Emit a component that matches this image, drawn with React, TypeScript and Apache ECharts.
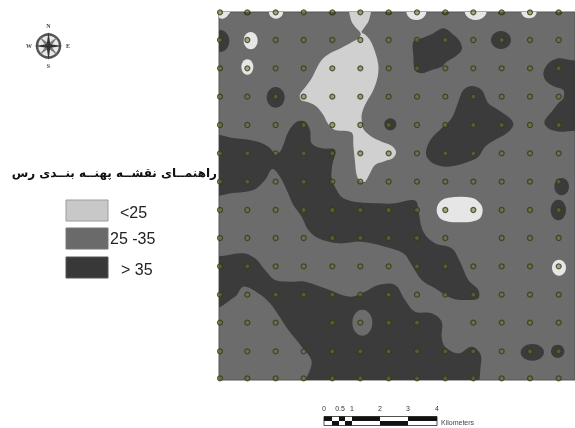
import React, { useEffect, useRef } from "react";
import * as echarts from "echarts";

const GRAY = "#6c6c6c";
const DARK = "#3b3b3b";
const LIGHT = "#d0d0d0";
const WHITE = "#e6e6e6";

const siteColumns = [15, 97, 182, 266, 352, 436, 521, 606, 691, 775, 860, 945, 1031];
const siteRows = [22, 105, 190, 275, 360, 445, 530, 615, 699, 784, 869, 953, 1039, 1120];
const missingSites = ["775,699", "266,953", "691,953"];

const legendNames = ["<25", "25 -35", "> 35"];
const scaleLabels = ["0", "0.5", "1", "2", "3", "4"];

type Pt = [number, number];
const darkZones: Pt[][] = [
  [[-20,395],[60,400],[120,408],[160,425],[180,445],[195,440],[205,420],[220,380],[245,350],[270,350],[285,375],[290,415],[320,430],[360,435],[352,480],[350,520],[365,555],[385,580],[430,592],[490,595],[540,595],[590,585],[605,590],[610,615],[625,680],[660,715],[710,730],[735,770],[760,825],[790,855],[790,880],[760,885],[710,880],[660,850],[620,825],[590,780],[565,745],[510,725],[440,710],[370,715],[310,700],[280,675],[260,635],[235,600],[215,555],[195,515],[172,492],[150,525],[115,555],[60,563],[-20,565]],
  [[-20,770],[40,750],[85,745],[120,760],[150,795],[180,825],[225,830],[270,830],[330,850],[405,875],[450,860],[490,840],[540,840],[570,885],[600,920],[650,925],[680,950],[680,995],[690,1025],[730,1045],[770,1025],[795,1045],[798,1075],[775,1150],[275,1150],[290,1070],[260,1025],[220,975],[190,930],[165,895],[130,865],[85,845],[60,875],[-20,915]],
  [[595,110],[620,100],[650,88],[685,70],[710,85],[735,110],[740,135],[720,155],[695,170],[680,185],[650,195],[620,205],[600,195],[595,150]],
  [[635,430],[650,400],[680,370],[710,340],[730,290],[745,255],[770,243],[800,255],[820,295],[850,315],[885,340],[895,360],[875,385],[840,405],[810,425],[790,455],[760,470],[700,485],[660,478],[635,455]],
  [[985,205],[1000,175],[1030,160],[1065,165],[1100,175],[1100,365],[1050,380],[1010,375],[990,360],[990,345],[1010,320],[1030,295],[1045,280],[1045,255],[1020,245],[995,230]],
];
const lightZones: Pt[][] = [
  [[405,0],[465,0],[462,45],[445,72],[440,82],[452,90],[468,110],[480,140],[490,180],[488,215],[475,255],[450,300],[440,330],[442,360],[447,375],[470,395],[500,410],[530,422],[543,440],[535,458],[510,468],[480,480],[465,505],[450,530],[435,528],[425,510],[420,470],[415,420],[412,385],[395,378],[360,375],[340,358],[325,330],[305,305],[280,292],[258,285],[255,268],[272,245],[290,220],[305,190],[320,165],[345,145],[380,128],[410,112],[430,100],[437,85],[420,65],[408,45]],
];
const whiteZones: Pt[][] = [
  [[0,10],[48,10],[35,35],[15,40]],
  [[665,615],[675,590],[700,578],[770,578],[795,595],[803,615],[795,640],[770,650],[735,652],[700,650],[675,640]],
];
// [centre x, centre y, radius x, radius y]
const darkSpots = [[182,277,27,31],[858,105,30,27],[526,358,18,18],[15,108,28,33],[1040,545,22,26],[1030,615,23,31],[952,1042,35,25],[1028,1039,20,20],[97,22,11,9],[352,22,11,9],[521,22,11,8],[691,22,11,8],[860,22,11,8],[1031,22,11,8]];
const whiteSpots = [[183,22,21,19],[604,20,30,25],[782,18,33,27],[942,20,23,20],[107,107,21,26],[97,186,18,23],[1032,788,21,24]];
const graySpots = [[442,953,30,39]];

const spot = (s: number[]): Pt[] => {
  const out: Pt[] = [];
  for (let a = 0; a < 24; a++) {
    const t = (a / 24) * Math.PI * 2;
    out.push([s[0] + s[2] * Math.cos(t), s[1] + s[3] * Math.sin(t)]);
  }
  return out;
};

const zones = [
  ...darkZones.map((pts) => ({ pts, fill: DARK, smooth: 0.35 })),
  ...darkSpots.map((s) => ({ pts: spot(s), fill: DARK, smooth: 0 })),
  ...lightZones.map((pts) => ({ pts, fill: LIGHT, smooth: 0.35 })),
  ...whiteZones.map((pts) => ({ pts, fill: WHITE, smooth: 0.35 })),
  ...whiteSpots.map((s) => ({ pts: spot(s), fill: WHITE, smooth: 0 })),
  ...graySpots.map((s) => ({ pts: spot(s), fill: GRAY, smooth: 0 })),
];

const sites: Pt[] = [];
siteRows.forEach((y) =>
  siteColumns.forEach((x) => {
    if (!missingSites.includes(`${x},${y}`)) sites.push([x, y]);
  })
);

const swatches = [
  { y: 200, fill: "#c8c8c8", stroke: "#9c9c9c", text: legendNames[0], tx: 120, ty: 212 },
  { y: 228, fill: "#6a6a6a", stroke: "#777", text: legendNames[1], tx: 110, ty: 238 },
  { y: 257, fill: "#383838", stroke: "#555", text: legendNames[2], tx: 121, ty: 269 },
];
const scaleX = [324, 340, 352, 380, 408, 437];
const checker = [324, 332, 339, 345, 352, 380, 408, 437];

const compass = { x: 48.5, y: 46 };
const star = (r1: number, r2: number, rot: number): number[][] => {
  const p: number[][] = [];
  for (let i = 0; i < 8; i++) {
    const r = i % 2 ? r2 : r1;
    const a = rot + (i * Math.PI) / 4;
    p.push([compass.x + r * Math.sin(a), compass.y - r * Math.cos(a)]);
  }
  return p;
};

const graphics: any[] = [
  { type: "circle", shape: { cx: compass.x, cy: compass.y, r: 11.5 }, style: { fill: "#e8e8e8", stroke: "#555", lineWidth: 2.5 } },
  { type: "polygon", shape: { points: star(13, 2.5, Math.PI / 4) }, style: { fill: "#777" } },
  { type: "polygon", shape: { points: star(14, 2.5, 0) }, style: { fill: "#333" } },
  ...[["N", 48.5, 26], ["S", 48.5, 66], ["W", 29, 46], ["E", 68, 46]].map(([t, x, y]) => ({
    type: "text",
    style: { text: t, x, y, fill: "#444", font: "bold 6px 'Liberation Serif'", align: "center", verticalAlign: "middle" },
  })),
  {
    type: "text",
    style: {
      text: "راهنمــای نقشــه پهنــه بنــدی رس",
      x: 217,
      y: 173,
      fill: "#111",
      font: "bold 12px 'DejaVu Sans'",
      align: "right",
      verticalAlign: "middle",
    },
  },
  ...swatches.flatMap((s) => [
    { type: "rect", shape: { x: 66, y: s.y, width: 42, height: 21 }, style: { fill: s.fill, stroke: s.stroke, lineWidth: 1 } },
    { type: "text", style: { text: s.text, x: s.tx, y: s.ty, fill: "#222", font: "16px 'Liberation Sans'", verticalAlign: "middle" } },
  ]),
  ...scaleLabels.map((t, i) => ({
    type: "text",
    style: { text: t, x: scaleX[i], y: 408, fill: "#333", font: "7px 'Liberation Sans'", align: "center", verticalAlign: "middle" },
  })),
  { type: "text", style: { text: "Kilometers", x: 441, y: 422, fill: "#444", font: "7px 'Liberation Sans'", verticalAlign: "middle" } },
  { type: "rect", shape: { x: 324, y: 416.5, width: 113, height: 9 }, style: { fill: "#fff", stroke: "#222", lineWidth: 0.8 } },
  ...checker.slice(0, -1).map((x, i) => ({
    type: "rect",
    shape: { x, y: i % 2 === 0 ? 416.5 : 421, width: checker[i + 1] - x, height: 4.5 },
    style: { fill: "#111" },
  })),
];

export default function App() {
  const ref = useRef<HTMLDivElement>(null);
  useEffect(() => {
    const chart = echarts.init(ref.current!, undefined, { renderer: "svg" });
    chart.setOption({
      animation: false,
      backgroundColor: "#fff",
      grid: { left: 219, top: 12, width: 356, height: 368, show: true, backgroundColor: GRAY, borderColor: "#555", borderWidth: 1 },
      xAxis: { type: "value", min: 12, max: 1080, show: false },
      yAxis: { type: "value", min: 21, max: 1125, inverse: true, show: false },
      graphic: graphics,
      series: [
        {
          type: "custom",
          clip: true,
          silent: true,
          data: zones.map((z, i) => [z.pts[0][0], z.pts[0][1], i]),
          renderItem: (params: any, api: any) => {
            const z = zones[api.value(2)];
            return {
              type: "polygon",
              shape: { points: z.pts.map((p) => api.coord(p)), smooth: z.smooth },
              style: { fill: z.fill },
            };
          },
        },
        {
          type: "scatter",
          clip: true,
          silent: true,
          symbol: "circle",
          symbolSize: 5,
          data: sites,
          itemStyle: { color: "rgba(110,112,70,0.7)", borderColor: "#36380f", borderWidth: 1.2 },
        },
      ],
    });
    return () => chart.dispose();
  }, []);
  return <div ref={ref} style={{ position: "absolute", left: 0, top: 0, width: 575, height: 428, filter: "blur(0.35px)" }} />;
}
